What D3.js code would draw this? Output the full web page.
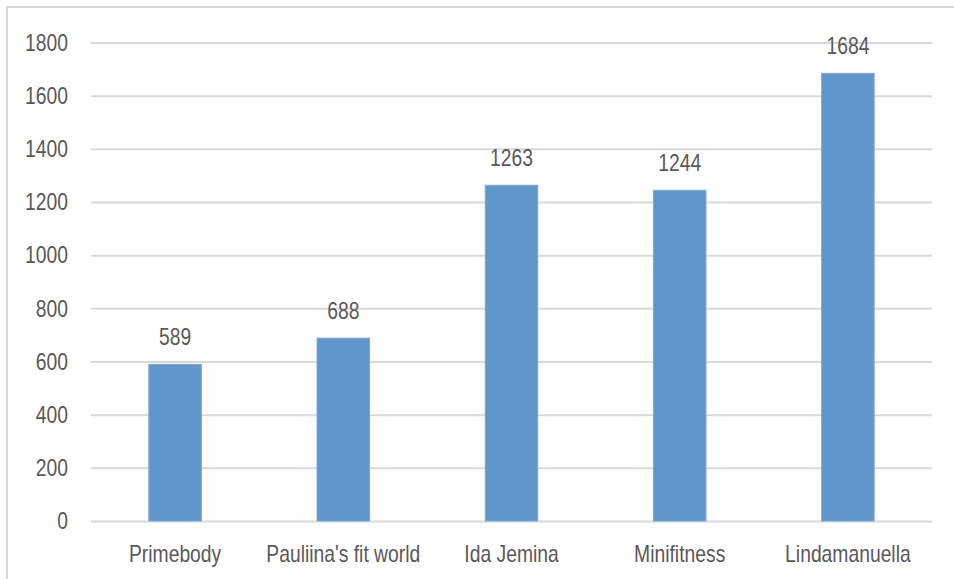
<!DOCTYPE html>
<html><head><meta charset="utf-8">
<script src="https://cdn.jsdelivr.net/npm/d3@7"></script>
<style>
html,body{margin:0;padding:0;background:#fff;}
svg{display:block;}
text{font-family:"Liberation Sans",Arial,sans-serif;fill:#595959;}
</style></head>
<body>
<svg id="chart" width="954" height="579"></svg>
<script>
const categories = ["Primebody","Pauliina's fit world","Ida Jemina","Minifitness","Lindamanuella"];
const values = [589, 688, 1263, 1244, 1684];
const yTicks = [0,200,400,600,800,1000,1200,1400,1600,1800];

const svg = d3.select("#chart");
const W = 954, H = 579;
const SX = 0.84, FS = 23;

// chart border
svg.append("rect").attr("x",7).attr("y",7).attr("width",W+10).attr("height",H+10)
  .attr("fill","none").attr("stroke","#d9d9d9").attr("stroke-width",2);

const x = d3.scaleBand().domain(categories).range([91,932]).paddingInner(0.688).paddingOuter(0.344);
const y = d3.scaleLinear().domain([0,1800]).range([521,42.5]);

// gridlines
const yAxis = d3.axisLeft(y).tickValues(yTicks).tickSize(-(932-91)).tickFormat("");
const gy = svg.append("g").attr("transform","translate(91,0)").call(yAxis);
gy.select(".domain").remove();
gy.selectAll(".tick line").attr("stroke","#d9d9d9").attr("stroke-width",2);

// y tick labels (condensed)
svg.append("g").selectAll("g").data(yTicks).join("g")
  .attr("transform",d=>`translate(68,${y(d)}) scale(${SX},1)`)
  .append("text").attr("text-anchor","end").attr("dy","0.36em").attr("font-size",FS)
  .text(d=>d);

// bars
svg.append("g").selectAll("rect").data(values).join("rect")
  .attr("x",(d,i)=>x(categories[i]))
  .attr("y",d=>y(d))
  .attr("width",x.bandwidth())
  .attr("height",d=>y(0)-y(d))
  .attr("fill","#5f96cb")
  .attr("stroke","#7aa8d6").attr("stroke-width",1);

// value labels
svg.append("g").selectAll("g").data(values).join("g")
  .attr("transform",(d,i)=>`translate(${x(categories[i])+x.bandwidth()/2},${y(d)-19}) scale(${SX},1)`)
  .append("text").attr("text-anchor","middle").attr("font-size",FS)
  .text(d=>d);

// category labels
svg.append("g").selectAll("g").data(categories).join("g")
  .attr("transform",d=>`translate(${x(d)+x.bandwidth()/2},561.7) scale(${SX},1)`)
  .append("text").attr("text-anchor","middle").attr("font-size",FS)
  .text(d=>d);
</script>
</body></html>
